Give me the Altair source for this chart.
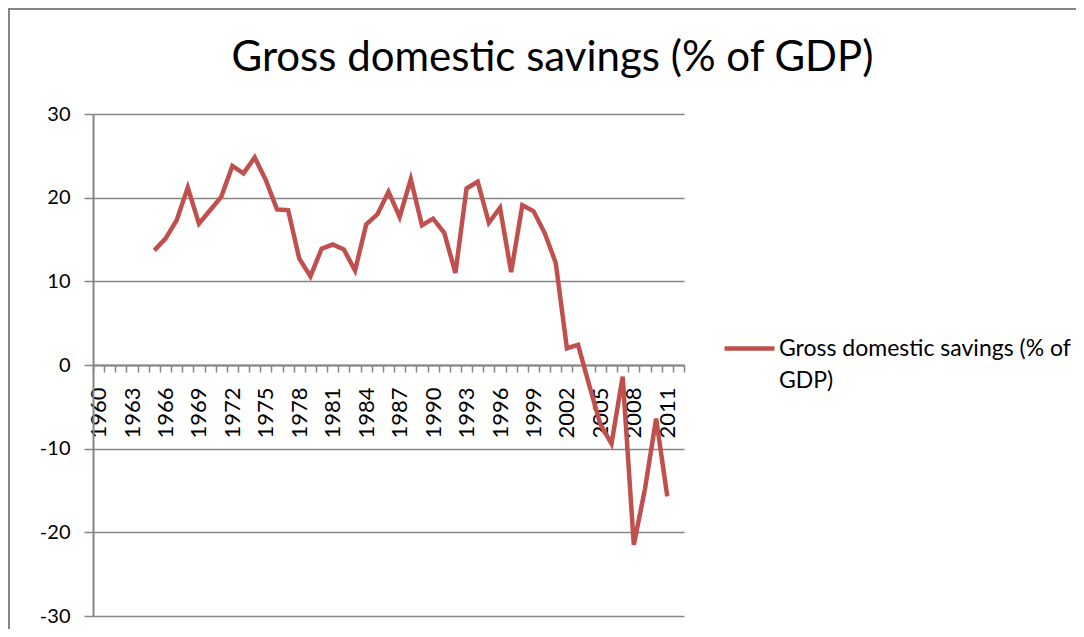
import altair as alt
import pandas as pd

years = list(range(1960, 2013))
savings = [None, None, None, None, None,
           13.7, 15.1, 17.3, 21.2, 16.9, 18.5, 20.1, 23.8, 22.9, 24.8,
           22.1, 18.6, 18.5, 12.7, 10.6, 13.9, 14.4, 13.8, 11.3, 16.8,
           18.0, 20.7, 17.7, 22.2, 16.7, 17.5, 15.8, 11.0, 21.1, 21.9,
           17.0, 18.8, 11.1, 19.1, 18.4, 15.8, 12.2, 2.0, 2.4, -2.4,
           -7.1, -9.4, -1.4, -21.5, -14.8, -6.4, -15.7, None]
series_name = "Gross domestic savings (% of GDP)"
y_ticks = [-30, -20, -10, 0, 10, 20, 30]

df = pd.DataFrame({"year": years, "value": savings, "series": series_name})

FONT = "Lato"
GRAY = "#868686"
RED = "#C0504D"

W, H = 591, 502

line = alt.Chart(df).mark_line(strokeWidth=4.5, color=RED).encode(
    x=alt.X("year:O", bandPosition=0.5,
            scale=alt.Scale(type="band", domain=years, paddingInner=0, paddingOuter=0),
            axis=alt.Axis(title=None, offset=-251, tickBand="extent",
                          labelAngle=270, labelExpr="datum.value % 3 == 1 ? datum.label : ''",
                          labelFontSize=22, labelFont=FONT, labelColor="#000",
                          labelPadding=15, tickSize=7, tickColor=GRAY, tickWidth=1.5,
                          domainColor=GRAY, domainWidth=2, grid=False, labelOverlap=False)),
    y=alt.Y("value:Q", scale=alt.Scale(domain=[-30, 30], nice=False),
            axis=alt.Axis(title=None, values=y_ticks, grid=True, gridColor=GRAY, gridWidth=1.5,
                          tickSize=9, tickColor=GRAY, tickWidth=1.5, domainColor=GRAY, domainWidth=2,
                          labelExpr="'' + datum.value",
                          labelFontSize=20, labelFont=FONT, labelColor="#000", labelPadding=14)),
    color=alt.Color("series:N", scale=alt.Scale(range=[RED]),
                    legend=alt.Legend(title=None, orient="none", legendX=629, legendY=207,
                                      symbolType="stroke", symbolSize=2500, symbolStrokeWidth=4.5,
                                      labelFont=FONT, labelFontSize=23, labelColor="#000",
                                      labelLimit=400, labelOffset=2,
                                      labelExpr="['Gross domestic savings (% of', 'GDP)']")),
)

frame = alt.Chart(alt.Data(values=[{}])).mark_rect(
    fillOpacity=0, stroke=GRAY, strokeWidth=2
).encode(x=alt.value(-84), x2=alt.value(1100), y=alt.value(-105), y2=alt.value(700))

chart = alt.layer(frame, line).properties(
    width=W, height=H,
    autosize=alt.AutoSizeParams(type="none"),
    padding={"left": 85, "top": 106, "right": 392, "bottom": 13},
    title=alt.TitleParams(series_name, font=FONT, fontSize=42, fontWeight="normal",
                          color="#000", anchor="middle", dx=164, offset=0, dy=72),
).configure(style={"guide-label": {"lineHeight": 32}}).configure_view(stroke=None)

chart.save("out.html", embed_options={"renderer": "svg", "actions": False})
